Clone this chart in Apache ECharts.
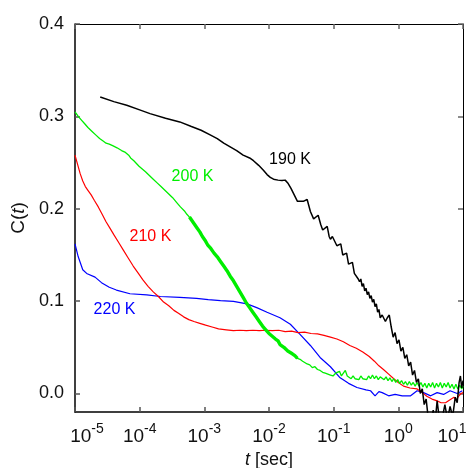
<!DOCTYPE html>
<html>
<head>
<meta charset="utf-8">
<script src="https://cdn.jsdelivr.net/npm/echarts@6/dist/echarts.min.js"></script>
<style>
  html, body { margin: 0; padding: 0; background: #fff; }
  #chart { width: 466px; height: 468px; }
</style>
</head>
<body>
<div id="chart"></div>
<script>
// Correlation function C(t) at four temperatures; time given as log10(t / sec)
const seriesNames = ['190 K', '200 K', '210 K', '220 K'];

const logT190 = [-4.61,-4.40,-4.20,-4.00,-3.84,-3.60,-3.38,-3.20,-3.05,-2.91,-2.80,-2.70,-2.60,-2.50,-2.40,-2.30,-2.24,-2.16,-2.09,-2.03,-1.98,-1.93,-1.86,-1.80,-1.75,-1.71,-1.66,-1.61,-1.56,-1.53,-1.47,-1.41,-1.36,-1.31,-1.28,-1.24,-1.20,-1.17,-1.14,-1.10,-1.07,-1.05,-1.02,-0.99,-0.95,-0.92,-0.89,-0.86,-0.83,-0.80,-0.77,-0.74,-0.71,-0.68,-0.65,-0.62,-0.60,-0.58,-0.56,-0.54,-0.52,-0.50,-0.48,-0.46,-0.44,-0.42,-0.40,-0.38,-0.36,-0.34,-0.32,-0.30,-0.28,-0.25,-0.23,-0.20,-0.17,-0.14,-0.11,-0.08,-0.05,-0.02,0.01,0.04,0.07,0.10,0.13,0.16,0.19,0.22,0.25,0.28,0.31,0.34,0.37,0.40,0.43,0.46,0.50,0.54,0.57,0.60,0.63,0.67,0.72,0.76,0.80,0.84,0.88,0.91,0.94,0.96,0.98,1.00];
const c190 = [0.321,0.316,0.312,0.307,0.303,0.298,0.294,0.289,0.285,0.280,0.276,0.271,0.267,0.263,0.258,0.255,0.252,0.247,0.242,0.237,0.234,0.232,0.231,0.2305,0.231,0.228,0.222,0.215,0.208,0.206,0.208,0.210,0.197,0.189,0.191,0.193,0.183,0.177,0.179,0.181,0.170,0.167,0.170,0.171,0.160,0.158,0.162,0.150,0.148,0.152,0.140,0.139,0.142,0.130,0.128,0.124,0.121,0.124,0.116,0.119,0.111,0.114,0.107,0.110,0.103,0.106,0.099,0.102,0.094,0.097,0.088,0.091,0.082,0.085,0.087,0.078,0.082,0.085,0.072,0.061,0.066,0.054,0.058,0.046,0.050,0.038,0.042,0.030,0.034,0.020,0.025,0.012,0.016,0.000,0.005,-0.012,-0.006,-0.025,-0.030,-0.018,-0.030,-0.008,-0.025,-0.030,-0.012,-0.028,-0.014,-0.025,-0.004,-0.010,0.012,0.019,0.006,0.014];

const logT200 = [-5.00,-4.95,-4.90,-4.85,-4.80,-4.74,-4.68,-4.62,-4.56,-4.52,-4.47,-4.41,-4.35,-4.28,-4.22,-4.17,-4.14,-4.12,-4.09,-4.07,-4.05,-4.03,-4.01,-3.99,-3.96,-3.94,-3.91,-3.88,-3.85,-3.82,-3.79,-3.76,-3.73,-3.70,-3.67,-3.64,-3.61,-3.58,-3.55,-3.52,-3.49,-3.46,-3.43,-3.40,-3.37,-3.34,-3.30,-3.27,-3.23,-3.19,-3.15,-3.11,-3.07,-3.03,-2.99,-2.95,-2.90,-2.85,-2.80,-2.75,-2.70,-2.65,-2.60,-2.55,-2.50,-2.45,-2.40,-2.35,-2.30,-2.25,-2.20,-2.15,-2.10,-2.05,-2.00,-1.95,-1.90,-1.86,-1.83,-1.80,-1.77,-1.74,-1.71,-1.68,-1.64,-1.60,-1.56,-1.52,-1.48,-1.45,-1.41,-1.37,-1.33,-1.29,-1.25,-1.21,-1.17,-1.13,-1.09,-1.05,-1.01,-0.97,-0.94,-0.91,-0.88,-0.85,-0.82,-0.79,-0.76,-0.73,-0.70,-0.67,-0.64,-0.61,-0.58,-0.55,-0.52,-0.49,-0.46,-0.43,-0.40,-0.37,-0.34,-0.31,-0.28,-0.25,-0.22,-0.19,-0.16,-0.13,-0.10,-0.07,-0.04,-0.01,0.02,0.05,0.08,0.11,0.14,0.17,0.20,0.23,0.26,0.29,0.32,0.35,0.38,0.41,0.44,0.47,0.50,0.53,0.56,0.59,0.62,0.65,0.68,0.71,0.74,0.77,0.80,0.83,0.86,0.89,0.92,0.95,0.98,1.00];
const c200 = [0.305,0.300,0.296,0.292,0.288,0.284,0.280,0.276,0.273,0.271,0.270,0.268,0.266,0.263,0.261,0.258,0.255,0.256,0.252,0.253,0.249,0.251,0.246,0.248,0.243,0.245,0.240,0.239,0.236,0.235,0.232,0.231,0.228,0.227,0.224,0.223,0.220,0.219,0.216,0.215,0.212,0.210,0.207,0.205,0.202,0.200,0.197,0.194,0.191,0.187,0.183,0.179,0.175,0.170,0.166,0.161,0.157,0.152,0.148,0.143,0.138,0.133,0.127,0.122,0.116,0.110,0.104,0.098,0.093,0.088,0.083,0.078,0.073,0.069,0.065,0.062,0.059,0.057,0.053,0.054,0.050,0.049,0.046,0.047,0.043,0.041,0.038,0.037,0.035,0.035,0.032,0.031,0.028,0.029,0.026,0.025,0.023,0.022,0.021,0.020,0.019,0.022,0.020,0.024,0.019,0.022,0.025,0.019,0.021,0.016,0.019,0.016,0.018,0.015,0.019,0.016,0.018,0.015,0.019,0.016,0.020,0.016,0.019,0.015,0.018,0.020,0.015,0.018,0.014,0.017,0.013,0.016,0.012,0.015,0.011,0.014,0.010,0.013,0.009,0.013,0.009,0.012,0.008,0.012,0.008,0.012,0.007,0.011,0.006,0.011,0.007,0.012,0.006,0.011,0.007,0.012,0.006,0.011,0.007,0.012,0.006,0.010,0.005,0.010,0.005,0.009,0.005,0.008];

const logT210 = [-5.00,-4.96,-4.92,-4.88,-4.84,-4.80,-4.75,-4.70,-4.64,-4.58,-4.52,-4.46,-4.40,-4.32,-4.25,-4.18,-4.10,-4.02,-3.95,-3.87,-3.79,-3.71,-3.63,-3.55,-3.47,-3.40,-3.32,-3.24,-3.16,-3.07,-2.98,-2.88,-2.78,-2.66,-2.55,-2.45,-2.35,-2.25,-2.15,-2.05,-1.95,-1.85,-1.75,-1.65,-1.55,-1.45,-1.35,-1.25,-1.15,-1.05,-0.95,-0.85,-0.75,-0.65,-0.55,-0.45,-0.37,-0.30,-0.23,-0.15,-0.07,0.00,0.08,0.18,0.29,0.37,0.44,0.52,0.60,0.66,0.73,0.77,0.80,0.86,0.90,0.93,0.97,1.00];
const c210 = [0.258,0.248,0.238,0.230,0.224,0.220,0.215,0.209,0.202,0.194,0.186,0.179,0.172,0.163,0.155,0.147,0.138,0.130,0.123,0.116,0.110,0.105,0.099,0.095,0.090,0.087,0.083,0.080,0.078,0.076,0.074,0.072,0.070,0.069,0.068,0.0685,0.068,0.0685,0.068,0.0685,0.068,0.0685,0.067,0.0675,0.066,0.0665,0.065,0.0645,0.063,0.061,0.059,0.056,0.052,0.049,0.045,0.040,0.035,0.030,0.026,0.021,0.016,0.012,0.008,0.006,0.005,0.001,-0.003,-0.006,-0.008,-0.010,-0.010,-0.008,-0.006,-0.004,-0.007,-0.003,0.000,0.001];

const logT220 = [-5.00,-4.95,-4.88,-4.82,-4.69,-4.59,-4.47,-4.36,-4.15,-3.89,-3.68,-3.38,-3.12,-2.94,-2.75,-2.55,-2.34,-2.19,-2.03,-1.83,-1.67,-1.52,-1.36,-1.21,-1.05,-0.90,-0.77,-0.64,-0.50,-0.43,-0.36,-0.30,-0.25,-0.15,-0.05,0.06,0.19,0.29,0.39,0.50,0.60,0.70,0.80,0.91,0.99];
const c220 = [0.162,0.148,0.134,0.130,0.126,0.120,0.115,0.112,0.108,0.1067,0.105,0.104,0.103,0.1016,0.1005,0.0998,0.097,0.093,0.088,0.082,0.075,0.064,0.052,0.039,0.029,0.017,0.011,0.0065,0.004,0.003,-0.0025,0.002,0.001,-0.0025,-0.001,-0.0025,-0.0025,0.003,0.001,-0.0025,0.001,-0.001,0.003,0.000,0.003];

// Anchor (log10 t, C) of each curve's temperature label
const labelLogT = [-1.675, -3.183, -3.833, -4.389];
const labelC = [0.2535, 0.2345, 0.170, 0.0908];

// Tick labels
const xTickExponents = [-5, -4, -3, -2, -1, 0, 1];
const yTickValues = [0.0, 0.1, 0.2, 0.3, 0.4];

const colors = ['#000000', '#00ee00', '#ff0000', '#0000ff'];
const widths = [1.5, 1.3, 1.2, 1.2];
const FONT = '"Liberation Sans", Arial, sans-serif';

const toPairs = (lt, c) => lt.map((v, i) => [Math.pow(10, v), c[i]]);
const curves = [toPairs(logT190, c190), toPairs(logT200, c200), toPairs(logT210, c210), toPairs(logT220, c220)];

const xTicks = xTickExponents.map(e => Math.pow(10, e));

const series = curves.map((data, k) => ({
  name: seriesNames[k],
  type: 'line',
  data: data,
  showSymbol: false,
  symbol: 'none',
  z: 10 - k,
  lineStyle: { color: colors[k], width: widths[k] },
  markPoint: {
    symbol: 'circle',
    symbolSize: 1,
    itemStyle: { color: 'rgba(0,0,0,0)' },
    label: {
      show: true, position: 'inside', formatter: seriesNames[k],
      color: colors[k], fontSize: 16, fontFamily: FONT
    },
    data: [{ coord: [Math.pow(10, labelLogT[k]), labelC[k]] }]
  }
}));

// Dense noisy stretch of the 200 K curve, drawn as a heavier stroke
const g200 = curves[1].filter((p, i) => logT200[i] >= -3.25 && logT200[i] <= -1.55);
series.push({
  type: 'line', data: g200, showSymbol: false, symbol: 'none', z: 9,
  lineStyle: { color: colors[1], width: 3.4 }, silent: true
});

const chart = echarts.init(document.getElementById('chart'), null, { renderer: 'canvas' });

chart.setOption({
  animation: false,
  backgroundColor: '#ffffff',
  grid: { left: 75, right: 3, top: 24, bottom: 56, containLabel: false, outerBoundsMode: 'none' },
  xAxis: [{
    type: 'log', logBase: 10, min: 1e-5, max: 10, position: 'bottom',
    axisLine: { onZero: false, lineStyle: { color: '#000', width: 1.5 } },
    axisTick: { inside: true, length: 5, customValues: xTicks, lineStyle: { color: '#555', width: 1.5 } },
    axisLabel: {
      customValues: xTicks, showMinLabel: true, showMaxLabel: true, margin: 10,
      formatter: v => {
        const e = Math.round(Math.log10(v));
        if (e === -5) return '{bl|10}{s|' + e + '}';
        if (e === 1) return '{b|10}{sr|' + e + '}';
        return '{b|10}{s|' + e + '}';
      },
      rich: {
        b: { fontSize: 19, lineHeight: 24, color: '#111', fontFamily: FONT, verticalAlign: 'bottom' },
        bl: { fontSize: 19, lineHeight: 24, color: '#111', fontFamily: FONT, verticalAlign: 'bottom', padding: [0, 0, 0, 24] },
        s: { fontSize: 14, lineHeight: 10, color: '#111', fontFamily: FONT, verticalAlign: 'top' },
        sr: { fontSize: 14, lineHeight: 10, color: '#111', fontFamily: FONT, verticalAlign: 'top', padding: [0, 22, 0, 0] }
      }
    },
    splitLine: { show: false },
    name: '{i|t} [sec]', nameLocation: 'middle', nameGap: 38,
    nameTextStyle: { fontSize: 18, color: '#111', fontFamily: FONT, rich: { i: { fontStyle: 'italic', fontSize: 18, color: '#111', fontFamily: FONT } } }
  }, {
    type: 'log', logBase: 10, min: 1e-5, max: 10, position: 'top',
    axisLine: { onZero: false, lineStyle: { color: '#000', width: 1 } },
    axisTick: { inside: true, length: 5, customValues: xTicks, lineStyle: { color: '#666', width: 1.5 } },
    axisLabel: { show: false },
    splitLine: { show: false }
  }],
  yAxis: [{
    type: 'value', min: -0.02, max: 0.4, position: 'left',
    axisLine: { show: true, onZero: false, lineStyle: { color: '#000', width: 1.5 } },
    axisTick: { show: true, inside: true, length: 5, customValues: yTickValues, lineStyle: { color: '#555', width: 1.5 } },
    axisLabel: {
      customValues: yTickValues, margin: 11, fontSize: 18, color: '#111', fontFamily: FONT,
      formatter: v => v.toFixed(1)
    },
    splitLine: { show: false },
    name: 'C({i|t})', nameLocation: 'middle', nameGap: 46, nameRotate: 90,
    nameTextStyle: { fontSize: 19, color: '#111', fontFamily: FONT, rich: { i: { fontStyle: 'italic', fontSize: 19, color: '#111', fontFamily: FONT } } }
  }, {
    type: 'value', min: -0.02, max: 0.4, position: 'right',
    axisLine: { show: true, onZero: false, lineStyle: { color: '#000', width: 1 } },
    axisTick: { show: true, inside: true, length: 5, customValues: yTickValues, lineStyle: { color: '#666', width: 1.5 } },
    axisLabel: { show: false },
    splitLine: { show: false }
  }],
  series: series
});
</script>
</body>
</html>
